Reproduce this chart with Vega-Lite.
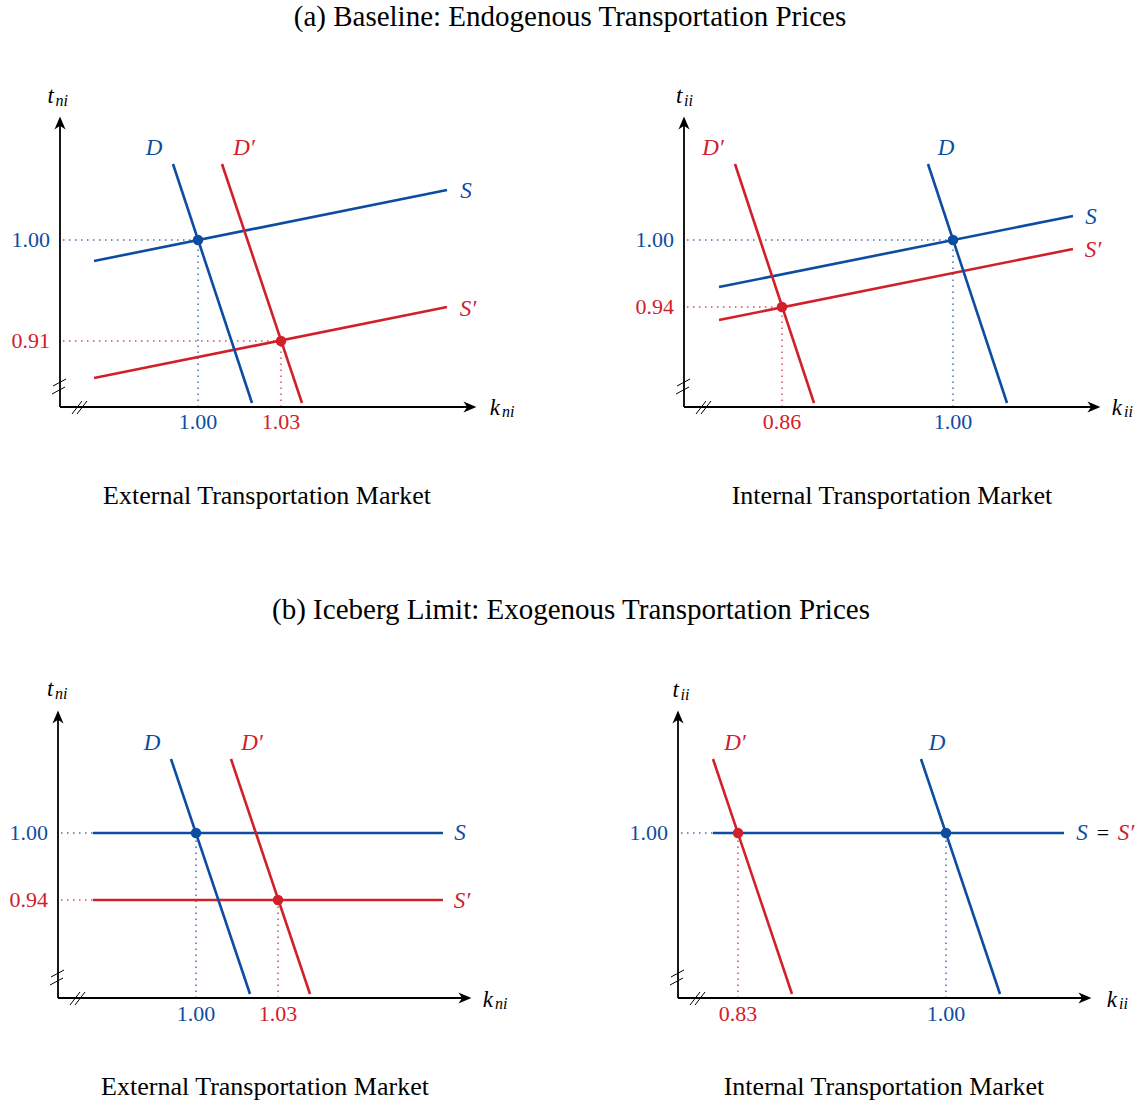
{
"$schema": "https://vega.github.io/schema/vega-lite/v6.json",
"padding": 0,
"background": "white",
"config": {"view": {"stroke": null}},
"datasets": {"el": [
{"panel":"A-ext","kind":"guide","state":"initial","x":0.3,"y":16.7,"x2":13.8,"y2":16.7},
{"panel":"A-ext","kind":"guide","state":"initial","x":13.8,"y":0,"x2":13.8,"y2":16.7},
{"panel":"A-ext","kind":"guide","state":"counterfactual","x":0.3,"y":6.6,"x2":22.1,"y2":6.6},
{"panel":"A-ext","kind":"guide","state":"counterfactual","x":22.1,"y":0,"x2":22.1,"y2":6.6},
{"panel":"A-ext","kind":"curve","state":"initial","x":3.4,"y":14.6,"x2":38.7,"y2":21.7},
{"panel":"A-ext","kind":"curve","state":"counterfactual","x":3.4,"y":2.9,"x2":38.7,"y2":10.0},
{"panel":"A-ext","kind":"curve","state":"initial","x":11.3,"y":24.3,"x2":19.2,"y2":0.4},
{"panel":"A-ext","kind":"curve","state":"counterfactual","x":16.2,"y":24.3,"x2":24.2,"y2":0.4},
{"panel":"A-ext","kind":"axis","state":"neutral","x":0,"y":0,"x2":0,"y2":28.3},
{"panel":"A-ext","kind":"axis","state":"neutral","x":0,"y":0,"x2":40.9,"y2":0},
{"panel":"A-ext","kind":"break","state":"neutral","x":-0.7,"y":2.1,"x2":0.6,"y2":2.8},
{"panel":"A-ext","kind":"break","state":"neutral","x":-0.8,"y":1.3,"x2":0.5,"y2":2.0},
{"panel":"A-ext","kind":"break","state":"neutral","x":1.2,"y":-0.7,"x2":2.2,"y2":0.6},
{"panel":"A-ext","kind":"break","state":"neutral","x":1.7,"y":-0.7,"x2":2.7,"y2":0.6},
{"panel":"A-ext","kind":"arrowUp","state":"neutral","x":0,"y":28.3},
{"panel":"A-ext","kind":"arrowRight","state":"neutral","x":40.9,"y":0},
{"panel":"A-ext","kind":"eq","state":"initial","x":13.8,"y":16.7},
{"panel":"A-ext","kind":"eq","state":"counterfactual","x":22.1,"y":6.6},
{"panel":"A-ext","kind":"label","role":"ytick","state":"initial","text":"1.00","x":-1.0,"y":16.7},
{"panel":"A-ext","kind":"label","role":"ytick","state":"counterfactual","text":"0.91","x":-1.0,"y":6.6},
{"panel":"A-ext","kind":"label","role":"xtick","state":"initial","text":"1.00","x":13.8,"y":-1.5},
{"panel":"A-ext","kind":"label","role":"xtick","state":"counterfactual","text":"1.03","x":22.1,"y":-1.5},
{"panel":"A-ext","kind":"label","role":"curve","state":"initial","text":"D","x":9.4,"y":25.9},
{"panel":"A-ext","kind":"label","role":"curve","state":"counterfactual","text":"D′","x":18.4,"y":25.9},
{"panel":"A-ext","kind":"label","role":"curve","state":"initial","text":"S","x":40.6,"y":21.6},
{"panel":"A-ext","kind":"label","role":"curve","state":"counterfactual","text":"S′","x":40.8,"y":9.8},
{"panel":"A-ext","kind":"label","role":"var","state":"neutral","text":"t","x":-0.6,"y":31.1},
{"panel":"A-ext","kind":"label","role":"varsub","state":"neutral","text":"ni","x":-0.45,"y":30.6},
{"panel":"A-ext","kind":"label","role":"var","state":"neutral","text":"k","x":44.0,"y":-0.1},
{"panel":"A-ext","kind":"label","role":"varsub","state":"neutral","text":"ni","x":44.2,"y":-0.5},
{"panel":"A-ext","kind":"label","role":"caption","state":"neutral","text":"External Transportation Market","x":20.7,"y":-8.9},
{"panel":"A-ext","kind":"label","role":"title","state":"neutral","text":"(a) Baseline: Endogenous Transportation Prices","x":51.0,"y":39.0},

{"panel":"A-int","kind":"guide","state":"initial","x":0.3,"y":16.7,"x2":26.9,"y2":16.7},
{"panel":"A-int","kind":"guide","state":"initial","x":26.9,"y":0,"x2":26.9,"y2":16.7},
{"panel":"A-int","kind":"guide","state":"counterfactual","x":0.3,"y":10.0,"x2":9.8,"y2":10.0},
{"panel":"A-int","kind":"guide","state":"counterfactual","x":9.8,"y":0,"x2":9.8,"y2":10.0},
{"panel":"A-int","kind":"curve","state":"initial","x":3.5,"y":12.0,"x2":38.9,"y2":19.1},
{"panel":"A-int","kind":"curve","state":"counterfactual","x":3.5,"y":8.7,"x2":38.9,"y2":15.8},
{"panel":"A-int","kind":"curve","state":"counterfactual","x":5.1,"y":24.3,"x2":13.0,"y2":0.4},
{"panel":"A-int","kind":"curve","state":"initial","x":24.4,"y":24.3,"x2":32.3,"y2":0.4},
{"panel":"A-int","kind":"axis","state":"neutral","x":0,"y":0,"x2":0,"y2":28.3},
{"panel":"A-int","kind":"axis","state":"neutral","x":0,"y":0,"x2":40.9,"y2":0},
{"panel":"A-int","kind":"break","state":"neutral","x":-0.7,"y":2.1,"x2":0.6,"y2":2.8},
{"panel":"A-int","kind":"break","state":"neutral","x":-0.8,"y":1.3,"x2":0.5,"y2":2.0},
{"panel":"A-int","kind":"break","state":"neutral","x":1.2,"y":-0.7,"x2":2.2,"y2":0.6},
{"panel":"A-int","kind":"break","state":"neutral","x":1.7,"y":-0.7,"x2":2.7,"y2":0.6},
{"panel":"A-int","kind":"arrowUp","state":"neutral","x":0,"y":28.3},
{"panel":"A-int","kind":"arrowRight","state":"neutral","x":40.9,"y":0},
{"panel":"A-int","kind":"eq","state":"initial","x":26.9,"y":16.7},
{"panel":"A-int","kind":"eq","state":"counterfactual","x":9.8,"y":10.0},
{"panel":"A-int","kind":"label","role":"ytick","state":"initial","text":"1.00","x":-1.0,"y":16.7},
{"panel":"A-int","kind":"label","role":"ytick","state":"counterfactual","text":"0.94","x":-1.0,"y":10.0},
{"panel":"A-int","kind":"label","role":"xtick","state":"counterfactual","text":"0.86","x":9.8,"y":-1.5},
{"panel":"A-int","kind":"label","role":"xtick","state":"initial","text":"1.00","x":26.9,"y":-1.5},
{"panel":"A-int","kind":"label","role":"curve","state":"counterfactual","text":"D′","x":2.9,"y":25.9},
{"panel":"A-int","kind":"label","role":"curve","state":"initial","text":"D","x":26.2,"y":25.9},
{"panel":"A-int","kind":"label","role":"curve","state":"initial","text":"S","x":40.7,"y":19.0},
{"panel":"A-int","kind":"label","role":"curve","state":"counterfactual","text":"S′","x":40.9,"y":15.7},
{"panel":"A-int","kind":"label","role":"var","state":"neutral","text":"t","x":-0.15,"y":31.1},
{"panel":"A-int","kind":"label","role":"varsub","state":"neutral","text":"ii","x":0.0,"y":30.6},
{"panel":"A-int","kind":"label","role":"var","state":"neutral","text":"k","x":43.8,"y":-0.1},
{"panel":"A-int","kind":"label","role":"varsub","state":"neutral","text":"ii","x":44.0,"y":-0.5},
{"panel":"A-int","kind":"label","role":"caption","state":"neutral","text":"Internal Transportation Market","x":20.8,"y":-8.9},

{"panel":"B-ext","kind":"guide","state":"initial","x":0.3,"y":16.5,"x2":13.8,"y2":16.5},
{"panel":"B-ext","kind":"guide","state":"initial","x":13.8,"y":0,"x2":13.8,"y2":16.5},
{"panel":"B-ext","kind":"guide","state":"counterfactual","x":0.3,"y":9.8,"x2":22.0,"y2":9.8},
{"panel":"B-ext","kind":"guide","state":"counterfactual","x":22.0,"y":0,"x2":22.0,"y2":9.8},
{"panel":"B-ext","kind":"curve","state":"initial","x":3.5,"y":16.5,"x2":38.5,"y2":16.5},
{"panel":"B-ext","kind":"curve","state":"counterfactual","x":3.5,"y":9.8,"x2":38.5,"y2":9.8},
{"panel":"B-ext","kind":"curve","state":"initial","x":11.3,"y":23.9,"x2":19.2,"y2":0.4},
{"panel":"B-ext","kind":"curve","state":"counterfactual","x":17.3,"y":23.9,"x2":25.2,"y2":0.4},
{"panel":"B-ext","kind":"axis","state":"neutral","x":0,"y":0,"x2":0,"y2":28.0},
{"panel":"B-ext","kind":"axis","state":"neutral","x":0,"y":0,"x2":40.6,"y2":0},
{"panel":"B-ext","kind":"break","state":"neutral","x":-0.7,"y":2.1,"x2":0.6,"y2":2.8},
{"panel":"B-ext","kind":"break","state":"neutral","x":-0.8,"y":1.3,"x2":0.5,"y2":2.0},
{"panel":"B-ext","kind":"break","state":"neutral","x":1.2,"y":-0.7,"x2":2.2,"y2":0.6},
{"panel":"B-ext","kind":"break","state":"neutral","x":1.7,"y":-0.7,"x2":2.7,"y2":0.6},
{"panel":"B-ext","kind":"arrowUp","state":"neutral","x":0,"y":28.0},
{"panel":"B-ext","kind":"arrowRight","state":"neutral","x":40.6,"y":0},
{"panel":"B-ext","kind":"eq","state":"initial","x":13.8,"y":16.5},
{"panel":"B-ext","kind":"eq","state":"counterfactual","x":22.0,"y":9.8},
{"panel":"B-ext","kind":"label","role":"ytick","state":"initial","text":"1.00","x":-1.0,"y":16.5},
{"panel":"B-ext","kind":"label","role":"ytick","state":"counterfactual","text":"0.94","x":-1.0,"y":9.8},
{"panel":"B-ext","kind":"label","role":"xtick","state":"initial","text":"1.00","x":13.8,"y":-1.6},
{"panel":"B-ext","kind":"label","role":"xtick","state":"counterfactual","text":"1.03","x":22.0,"y":-1.6},
{"panel":"B-ext","kind":"label","role":"curve","state":"initial","text":"D","x":9.4,"y":25.5},
{"panel":"B-ext","kind":"label","role":"curve","state":"counterfactual","text":"D′","x":19.4,"y":25.5},
{"panel":"B-ext","kind":"label","role":"curve","state":"initial","text":"S","x":40.2,"y":16.5},
{"panel":"B-ext","kind":"label","role":"curve","state":"counterfactual","text":"S′","x":40.4,"y":9.7},
{"panel":"B-ext","kind":"label","role":"var","state":"neutral","text":"t","x":-0.45,"y":30.9},
{"panel":"B-ext","kind":"label","role":"varsub","state":"neutral","text":"ni","x":-0.3,"y":30.4},
{"panel":"B-ext","kind":"label","role":"var","state":"neutral","text":"k","x":43.5,"y":-0.2},
{"panel":"B-ext","kind":"label","role":"varsub","state":"neutral","text":"ni","x":43.7,"y":-0.6},
{"panel":"B-ext","kind":"label","role":"caption","state":"neutral","text":"External Transportation Market","x":20.7,"y":-8.9},
{"panel":"B-ext","kind":"label","role":"title","state":"neutral","text":"(b) Iceberg Limit: Exogenous Transportation Prices","x":51.3,"y":38.8},

{"panel":"B-int","kind":"guide","state":"initial","x":0.3,"y":16.5,"x2":26.8,"y2":16.5},
{"panel":"B-int","kind":"guide","state":"initial","x":26.8,"y":0,"x2":26.8,"y2":16.5},
{"panel":"B-int","kind":"guide","state":"counterfactual","x":6.0,"y":0,"x2":6.0,"y2":16.5},
{"panel":"B-int","kind":"curve","state":"initial","x":3.5,"y":16.5,"x2":38.6,"y2":16.5},
{"panel":"B-int","kind":"curve","state":"counterfactual","x":3.5,"y":23.9,"x2":11.4,"y2":0.4},
{"panel":"B-int","kind":"curve","state":"initial","x":24.3,"y":23.9,"x2":32.2,"y2":0.4},
{"panel":"B-int","kind":"axis","state":"neutral","x":0,"y":0,"x2":0,"y2":28.0},
{"panel":"B-int","kind":"axis","state":"neutral","x":0,"y":0,"x2":40.6,"y2":0},
{"panel":"B-int","kind":"break","state":"neutral","x":-0.7,"y":2.1,"x2":0.6,"y2":2.8},
{"panel":"B-int","kind":"break","state":"neutral","x":-0.8,"y":1.3,"x2":0.5,"y2":2.0},
{"panel":"B-int","kind":"break","state":"neutral","x":1.2,"y":-0.7,"x2":2.2,"y2":0.6},
{"panel":"B-int","kind":"break","state":"neutral","x":1.7,"y":-0.7,"x2":2.7,"y2":0.6},
{"panel":"B-int","kind":"arrowUp","state":"neutral","x":0,"y":28.0},
{"panel":"B-int","kind":"arrowRight","state":"neutral","x":40.6,"y":0},
{"panel":"B-int","kind":"eq","state":"initial","x":26.8,"y":16.5},
{"panel":"B-int","kind":"eq","state":"counterfactual","x":6.0,"y":16.5},
{"panel":"B-int","kind":"label","role":"ytick","state":"initial","text":"1.00","x":-1.0,"y":16.5},
{"panel":"B-int","kind":"label","role":"xtick","state":"counterfactual","text":"0.83","x":6.0,"y":-1.6},
{"panel":"B-int","kind":"label","role":"xtick","state":"initial","text":"1.00","x":26.8,"y":-1.6},
{"panel":"B-int","kind":"label","role":"curve","state":"counterfactual","text":"D′","x":5.7,"y":25.5},
{"panel":"B-int","kind":"label","role":"curve","state":"initial","text":"D","x":25.9,"y":25.5},
{"panel":"B-int","kind":"label","role":"curve","state":"initial","text":"S","x":40.4,"y":16.5},
{"panel":"B-int","kind":"label","role":"relation","state":"neutral","text":"=","x":42.5,"y":16.5},
{"panel":"B-int","kind":"label","role":"curve","state":"counterfactual","text":"S′","x":44.8,"y":16.5},
{"panel":"B-int","kind":"label","role":"var","state":"neutral","text":"t","x":0.1,"y":30.8},
{"panel":"B-int","kind":"label","role":"varsub","state":"neutral","text":"ii","x":0.25,"y":30.3},
{"panel":"B-int","kind":"label","role":"var","state":"neutral","text":"k","x":43.9,"y":-0.2},
{"panel":"B-int","kind":"label","role":"varsub","state":"neutral","text":"ii","x":44.1,"y":-0.6},
{"panel":"B-int","kind":"label","role":"caption","state":"neutral","text":"Internal Transportation Market","x":20.6,"y":-8.9}
]},
"columns": 2,
"spacing": 0,
"bounds": "flush",
"resolve": {"scale": {"x": "independent", "y": "independent"}},
"concat": [
 {"width": 573, "height": 551, "data": {"name": "el"}, "transform": [{"filter": "datum.panel == 'A-ext'"}],
  "encoding": {
   "x": {"field": "x", "type": "quantitative", "scale": {"domain": [-6.0, 51.3], "nice": false, "zero": false}, "axis": null},
   "y": {"field": "y", "type": "quantitative", "scale": {"domain": [-14.4, 40.7], "nice": false, "zero": false}, "axis": null},
   "color": {"field": "state", "type": "nominal", "scale": {"domain": ["initial", "counterfactual", "neutral"], "range": ["#0c4da2", "#d1202a", "#000000"]}, "legend": null}
  },
  "layer": [
   {"transform": [{"filter": "datum.kind == 'guide'"}], "mark": {"type": "rule", "strokeWidth": 1.5, "strokeDash": [1.5, 4.5], "opacity": 0.8}, "encoding": {"x2": {"field": "x2"}, "y2": {"field": "y2"}}},
   {"transform": [{"filter": "datum.kind == 'axis'"}], "mark": {"type": "rule", "strokeWidth": 1.8}, "encoding": {"x2": {"field": "x2"}, "y2": {"field": "y2"}}},
   {"transform": [{"filter": "datum.kind == 'break'"}], "mark": {"type": "rule", "strokeWidth": 1}, "encoding": {"x2": {"field": "x2"}, "y2": {"field": "y2"}}},
   {"transform": [{"filter": "datum.kind == 'curve'"}], "mark": {"type": "rule", "strokeWidth": 2.6}, "encoding": {"x2": {"field": "x2"}, "y2": {"field": "y2"}}},
   {"transform": [{"filter": "datum.kind == 'arrowUp'"}], "mark": {"type": "point", "shape": "M0,-1 L0.75,0.75 L0,0.25 L-0.75,0.75 Z", "filled": true, "size": 220, "opacity": 1}},
   {"transform": [{"filter": "datum.kind == 'arrowRight'"}], "mark": {"type": "point", "shape": "M1,0 L-0.75,0.75 L-0.25,0 L-0.75,-0.75 Z", "filled": true, "size": 220, "opacity": 1}},
   {"transform": [{"filter": "datum.kind == 'eq'"}], "mark": {"type": "circle", "size": 110, "opacity": 1}},
   {"transform": [{"filter": "datum.role == 'ytick'"}], "mark": {"type": "text", "font": "Liberation Serif", "fontSize": 22, "align": "right", "baseline": "middle"}, "encoding": {"text": {"field": "text"}}},
   {"transform": [{"filter": "datum.role == 'xtick' || datum.role == 'relation'"}], "mark": {"type": "text", "font": "Liberation Serif", "fontSize": 22, "align": "center", "baseline": "middle"}, "encoding": {"text": {"field": "text"}}},
   {"transform": [{"filter": "datum.role == 'curve'"}], "mark": {"type": "text", "font": "Liberation Serif", "fontStyle": "italic", "fontSize": 23, "align": "center", "baseline": "middle"}, "encoding": {"text": {"field": "text"}}},
   {"transform": [{"filter": "datum.role == 'var'"}], "mark": {"type": "text", "font": "Liberation Serif", "fontStyle": "italic", "fontSize": 23, "align": "right", "baseline": "middle"}, "encoding": {"text": {"field": "text"}}},
   {"transform": [{"filter": "datum.role == 'varsub'"}], "mark": {"type": "text", "font": "Liberation Serif", "fontStyle": "italic", "fontSize": 16, "align": "left", "baseline": "middle"}, "encoding": {"text": {"field": "text"}}},
   {"transform": [{"filter": "datum.role == 'caption'"}], "mark": {"type": "text", "font": "Liberation Serif", "fontSize": 26, "align": "center", "baseline": "middle"}, "encoding": {"text": {"field": "text"}}},
   {"transform": [{"filter": "datum.role == 'title'"}], "mark": {"type": "text", "font": "Liberation Serif", "fontSize": 29, "align": "center", "baseline": "middle"}, "encoding": {"text": {"field": "text"}}}
  ]},
 {"width": 574, "height": 551, "data": {"name": "el"}, "transform": [{"filter": "datum.panel == 'A-int'"}],
  "encoding": {
   "x": {"field": "x", "type": "quantitative", "scale": {"domain": [-11.1, 46.3], "nice": false, "zero": false}, "axis": null},
   "y": {"field": "y", "type": "quantitative", "scale": {"domain": [-14.4, 40.7], "nice": false, "zero": false}, "axis": null},
   "color": {"field": "state", "type": "nominal", "scale": {"domain": ["initial", "counterfactual", "neutral"], "range": ["#0c4da2", "#d1202a", "#000000"]}, "legend": null}
  },
  "layer": [
   {"transform": [{"filter": "datum.kind == 'guide'"}], "mark": {"type": "rule", "strokeWidth": 1.5, "strokeDash": [1.5, 4.5], "opacity": 0.8}, "encoding": {"x2": {"field": "x2"}, "y2": {"field": "y2"}}},
   {"transform": [{"filter": "datum.kind == 'axis'"}], "mark": {"type": "rule", "strokeWidth": 1.8}, "encoding": {"x2": {"field": "x2"}, "y2": {"field": "y2"}}},
   {"transform": [{"filter": "datum.kind == 'break'"}], "mark": {"type": "rule", "strokeWidth": 1}, "encoding": {"x2": {"field": "x2"}, "y2": {"field": "y2"}}},
   {"transform": [{"filter": "datum.kind == 'curve'"}], "mark": {"type": "rule", "strokeWidth": 2.6}, "encoding": {"x2": {"field": "x2"}, "y2": {"field": "y2"}}},
   {"transform": [{"filter": "datum.kind == 'arrowUp'"}], "mark": {"type": "point", "shape": "M0,-1 L0.75,0.75 L0,0.25 L-0.75,0.75 Z", "filled": true, "size": 220, "opacity": 1}},
   {"transform": [{"filter": "datum.kind == 'arrowRight'"}], "mark": {"type": "point", "shape": "M1,0 L-0.75,0.75 L-0.25,0 L-0.75,-0.75 Z", "filled": true, "size": 220, "opacity": 1}},
   {"transform": [{"filter": "datum.kind == 'eq'"}], "mark": {"type": "circle", "size": 110, "opacity": 1}},
   {"transform": [{"filter": "datum.role == 'ytick'"}], "mark": {"type": "text", "font": "Liberation Serif", "fontSize": 22, "align": "right", "baseline": "middle"}, "encoding": {"text": {"field": "text"}}},
   {"transform": [{"filter": "datum.role == 'xtick' || datum.role == 'relation'"}], "mark": {"type": "text", "font": "Liberation Serif", "fontSize": 22, "align": "center", "baseline": "middle"}, "encoding": {"text": {"field": "text"}}},
   {"transform": [{"filter": "datum.role == 'curve'"}], "mark": {"type": "text", "font": "Liberation Serif", "fontStyle": "italic", "fontSize": 23, "align": "center", "baseline": "middle"}, "encoding": {"text": {"field": "text"}}},
   {"transform": [{"filter": "datum.role == 'var'"}], "mark": {"type": "text", "font": "Liberation Serif", "fontStyle": "italic", "fontSize": 23, "align": "right", "baseline": "middle"}, "encoding": {"text": {"field": "text"}}},
   {"transform": [{"filter": "datum.role == 'varsub'"}], "mark": {"type": "text", "font": "Liberation Serif", "fontStyle": "italic", "fontSize": 16, "align": "left", "baseline": "middle"}, "encoding": {"text": {"field": "text"}}},
   {"transform": [{"filter": "datum.role == 'caption'"}], "mark": {"type": "text", "font": "Liberation Serif", "fontSize": 26, "align": "center", "baseline": "middle"}, "encoding": {"text": {"field": "text"}}}
  ]},
 {"width": 573, "height": 552, "data": {"name": "el"}, "transform": [{"filter": "datum.panel == 'B-ext'"}],
  "encoding": {
   "x": {"field": "x", "type": "quantitative", "scale": {"domain": [-5.8, 51.5], "nice": false, "zero": false}, "axis": null},
   "y": {"field": "y", "type": "quantitative", "scale": {"domain": [-10.5, 44.7], "nice": false, "zero": false}, "axis": null},
   "color": {"field": "state", "type": "nominal", "scale": {"domain": ["initial", "counterfactual", "neutral"], "range": ["#0c4da2", "#d1202a", "#000000"]}, "legend": null}
  },
  "layer": [
   {"transform": [{"filter": "datum.kind == 'guide'"}], "mark": {"type": "rule", "strokeWidth": 1.5, "strokeDash": [1.5, 4.5], "opacity": 0.8}, "encoding": {"x2": {"field": "x2"}, "y2": {"field": "y2"}}},
   {"transform": [{"filter": "datum.kind == 'axis'"}], "mark": {"type": "rule", "strokeWidth": 1.8}, "encoding": {"x2": {"field": "x2"}, "y2": {"field": "y2"}}},
   {"transform": [{"filter": "datum.kind == 'break'"}], "mark": {"type": "rule", "strokeWidth": 1}, "encoding": {"x2": {"field": "x2"}, "y2": {"field": "y2"}}},
   {"transform": [{"filter": "datum.kind == 'curve'"}], "mark": {"type": "rule", "strokeWidth": 2.6}, "encoding": {"x2": {"field": "x2"}, "y2": {"field": "y2"}}},
   {"transform": [{"filter": "datum.kind == 'arrowUp'"}], "mark": {"type": "point", "shape": "M0,-1 L0.75,0.75 L0,0.25 L-0.75,0.75 Z", "filled": true, "size": 220, "opacity": 1}},
   {"transform": [{"filter": "datum.kind == 'arrowRight'"}], "mark": {"type": "point", "shape": "M1,0 L-0.75,0.75 L-0.25,0 L-0.75,-0.75 Z", "filled": true, "size": 220, "opacity": 1}},
   {"transform": [{"filter": "datum.kind == 'eq'"}], "mark": {"type": "circle", "size": 110, "opacity": 1}},
   {"transform": [{"filter": "datum.role == 'ytick'"}], "mark": {"type": "text", "font": "Liberation Serif", "fontSize": 22, "align": "right", "baseline": "middle"}, "encoding": {"text": {"field": "text"}}},
   {"transform": [{"filter": "datum.role == 'xtick' || datum.role == 'relation'"}], "mark": {"type": "text", "font": "Liberation Serif", "fontSize": 22, "align": "center", "baseline": "middle"}, "encoding": {"text": {"field": "text"}}},
   {"transform": [{"filter": "datum.role == 'curve'"}], "mark": {"type": "text", "font": "Liberation Serif", "fontStyle": "italic", "fontSize": 23, "align": "center", "baseline": "middle"}, "encoding": {"text": {"field": "text"}}},
   {"transform": [{"filter": "datum.role == 'var'"}], "mark": {"type": "text", "font": "Liberation Serif", "fontStyle": "italic", "fontSize": 23, "align": "right", "baseline": "middle"}, "encoding": {"text": {"field": "text"}}},
   {"transform": [{"filter": "datum.role == 'varsub'"}], "mark": {"type": "text", "font": "Liberation Serif", "fontStyle": "italic", "fontSize": 16, "align": "left", "baseline": "middle"}, "encoding": {"text": {"field": "text"}}},
   {"transform": [{"filter": "datum.role == 'caption'"}], "mark": {"type": "text", "font": "Liberation Serif", "fontSize": 26, "align": "center", "baseline": "middle"}, "encoding": {"text": {"field": "text"}}},
   {"transform": [{"filter": "datum.role == 'title'"}], "mark": {"type": "text", "font": "Liberation Serif", "fontSize": 29, "align": "center", "baseline": "middle"}, "encoding": {"text": {"field": "text"}}}
  ]},
 {"width": 574, "height": 552, "data": {"name": "el"}, "transform": [{"filter": "datum.panel == 'B-int'"}],
  "encoding": {
   "x": {"field": "x", "type": "quantitative", "scale": {"domain": [-10.5, 46.9], "nice": false, "zero": false}, "axis": null},
   "y": {"field": "y", "type": "quantitative", "scale": {"domain": [-10.5, 44.7], "nice": false, "zero": false}, "axis": null},
   "color": {"field": "state", "type": "nominal", "scale": {"domain": ["initial", "counterfactual", "neutral"], "range": ["#0c4da2", "#d1202a", "#000000"]}, "legend": null}
  },
  "layer": [
   {"transform": [{"filter": "datum.kind == 'guide'"}], "mark": {"type": "rule", "strokeWidth": 1.5, "strokeDash": [1.5, 4.5], "opacity": 0.8}, "encoding": {"x2": {"field": "x2"}, "y2": {"field": "y2"}}},
   {"transform": [{"filter": "datum.kind == 'axis'"}], "mark": {"type": "rule", "strokeWidth": 1.8}, "encoding": {"x2": {"field": "x2"}, "y2": {"field": "y2"}}},
   {"transform": [{"filter": "datum.kind == 'break'"}], "mark": {"type": "rule", "strokeWidth": 1}, "encoding": {"x2": {"field": "x2"}, "y2": {"field": "y2"}}},
   {"transform": [{"filter": "datum.kind == 'curve'"}], "mark": {"type": "rule", "strokeWidth": 2.6}, "encoding": {"x2": {"field": "x2"}, "y2": {"field": "y2"}}},
   {"transform": [{"filter": "datum.kind == 'arrowUp'"}], "mark": {"type": "point", "shape": "M0,-1 L0.75,0.75 L0,0.25 L-0.75,0.75 Z", "filled": true, "size": 220, "opacity": 1}},
   {"transform": [{"filter": "datum.kind == 'arrowRight'"}], "mark": {"type": "point", "shape": "M1,0 L-0.75,0.75 L-0.25,0 L-0.75,-0.75 Z", "filled": true, "size": 220, "opacity": 1}},
   {"transform": [{"filter": "datum.kind == 'eq'"}], "mark": {"type": "circle", "size": 110, "opacity": 1}},
   {"transform": [{"filter": "datum.role == 'ytick'"}], "mark": {"type": "text", "font": "Liberation Serif", "fontSize": 22, "align": "right", "baseline": "middle"}, "encoding": {"text": {"field": "text"}}},
   {"transform": [{"filter": "datum.role == 'xtick' || datum.role == 'relation'"}], "mark": {"type": "text", "font": "Liberation Serif", "fontSize": 22, "align": "center", "baseline": "middle"}, "encoding": {"text": {"field": "text"}}},
   {"transform": [{"filter": "datum.role == 'curve'"}], "mark": {"type": "text", "font": "Liberation Serif", "fontStyle": "italic", "fontSize": 23, "align": "center", "baseline": "middle"}, "encoding": {"text": {"field": "text"}}},
   {"transform": [{"filter": "datum.role == 'var'"}], "mark": {"type": "text", "font": "Liberation Serif", "fontStyle": "italic", "fontSize": 23, "align": "right", "baseline": "middle"}, "encoding": {"text": {"field": "text"}}},
   {"transform": [{"filter": "datum.role == 'varsub'"}], "mark": {"type": "text", "font": "Liberation Serif", "fontStyle": "italic", "fontSize": 16, "align": "left", "baseline": "middle"}, "encoding": {"text": {"field": "text"}}},
   {"transform": [{"filter": "datum.role == 'caption'"}], "mark": {"type": "text", "font": "Liberation Serif", "fontSize": 26, "align": "center", "baseline": "middle"}, "encoding": {"text": {"field": "text"}}}
  ]}
]
}
